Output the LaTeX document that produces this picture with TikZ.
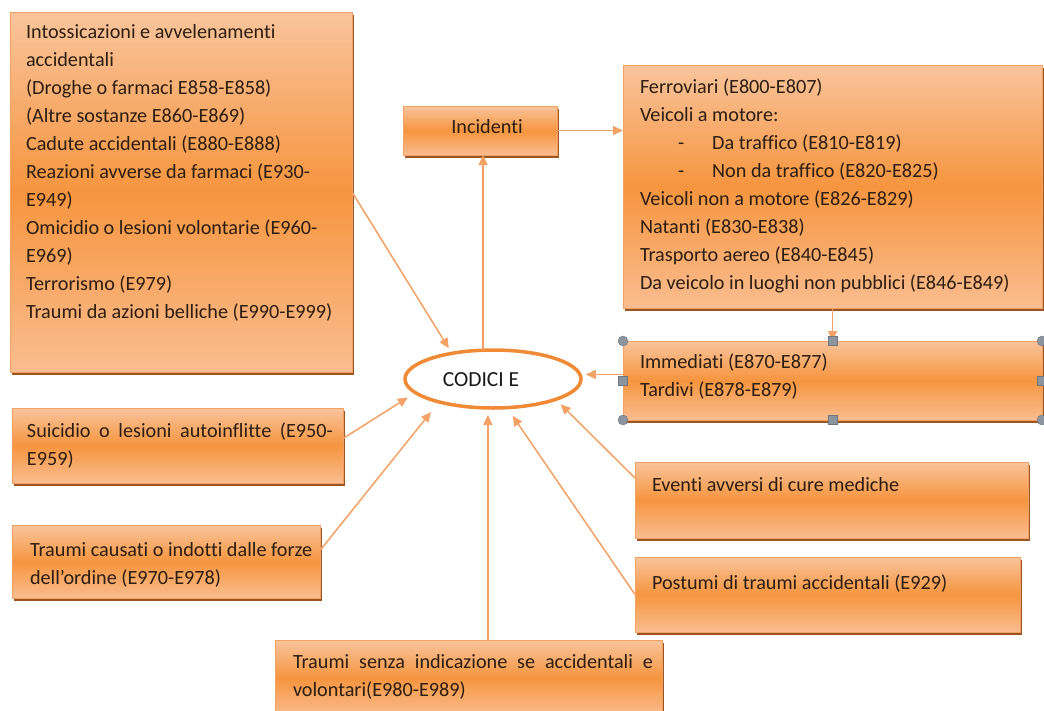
\documentclass[tikz,border=0pt]{standalone}
\usepackage{fontspec}
\setmainfont[Ligatures={NoCommon}]{Carlito}
\usetikzlibrary{shapes.geometric,arrows.meta,fit,calc}
\definecolor{boxT}{HTML}{F9C49C}
\definecolor{boxM}{HTML}{F6953F}
\definecolor{boxB}{HTML}{FABD90}
\definecolor{boxE}{HTML}{F4A062}
\definecolor{shadowc}{HTML}{9A5520}
\definecolor{lineC}{HTML}{F3A165}
\definecolor{ellC}{HTML}{F08A35}
\definecolor{textC}{HTML}{2B1E12}
\definecolor{handleC}{HTML}{8C959D}
\definecolor{handleE}{HTML}{6E767E}
\newcommand\fs{\fontsize{20.2}{28}\selectfont}
\newcommand\mkbox[5]{%
  \fill[shadowc] (#2+1.5,#3+3) rectangle (#4+1.5,#5+3);
  \node[boxsty, fit={(#2,#3) (#4,#5)}] (#1) {};}
\begin{document}
\begin{tikzpicture}[x=1pt,y=-1pt,
  boxsty/.style={draw=boxE, line width=0.6pt, top color=boxT, bottom color=boxB, middle color=boxM, inner sep=0pt, outer sep=0pt},
  txt/.style={inner sep=0pt, outer sep=0pt, anchor=north west, align=left, text=textC, font=\fs},
  jtxt/.style={inner sep=0pt, outer sep=0pt, anchor=north west, align=justify, text=textC, font=\fs},
  arr/.style={draw=lineC, line width=1.5pt, -{Triangle[length=10pt,width=9pt]}},
  hcirc/.style={circle, fill=handleC, draw=handleE, line width=0.4pt, minimum size=10pt, inner sep=0pt},
  hsq/.style={rectangle, fill=handleC, draw=handleE, line width=0.4pt, minimum size=9pt, inner sep=0pt}]
\useasboundingbox (0,0) rectangle (1044,710);
\clip (0,0) rectangle (1044,710);
\fill[white] (0,0) rectangle (1044,710);

% boxes
\mkbox{big}{10}{12}{352}{372}
\mkbox{inc}{403}{106}{557}{155}
\mkbox{fer}{623}{65}{1042}{308}
\mkbox{imm}{623}{341}{1042}{420}
\mkbox{sui}{12}{408}{343}{483}
\mkbox{tc}{12}{525}{320}{598}
\mkbox{ev}{635}{462}{1028}{538}
\mkbox{po}{635}{557}{1020}{632}
\mkbox{tsv}{275}{640}{662}{716}

% central ellipse
\node[ellipse, draw=ellC, line width=3.5pt, fill=white, minimum width=176pt, minimum height=58pt, inner sep=0pt, outer sep=0pt] (codici) at (493,379) {};
\node[inner sep=0pt, anchor=base, font=\fontsize{21.5}{26}\selectfont, text=black!90] (codtxt) at (481,386.5) {CODICI E};

% connectors
\draw[arr, shorten >=6pt] (big.east) -- (codici.148);
\draw[arr] (codici.109) -- (codici.109 |- inc.south);
\draw[arr] (inc.east) -- (inc.east -| fer.west);
\draw[arr] (fer.south) -- (imm.north);
\draw[arr, shorten >=6pt] (imm.west |- codici.3) -- (codici.3);
\draw[arr, shorten >=9pt] ([yshift=7pt]sui.east) -- (codici.190);
\draw[arr, shorten >=13pt] ([yshift=11pt]tc.east) -- (codici.203);
\draw[arr, shorten >=7pt] (codici.260 |- tsv.north) -- (codici.260);
\draw[arr, shorten >=7pt] ([yshift=22pt]ev.west) -- (codici.342);
\draw[arr, shorten >=10pt] (po.west) -- (codici.296);

% texts
\node[txt] (tbig) at (26,18.4) {\strut Intossicazioni e avvelenamenti\\
accidentali\\
(Droghe o farmaci E858-E858)\\
(Altre sostanze E860-E869)\\
Cadute accidentali (E880-E888)\\
Reazioni avverse da farmaci (E930-\\
E949)\\
Omicidio o lesioni volontarie (E960-\\
E969)\\
Terrorismo (E979)\\
Traumi da azioni belliche (E990-E999)};
\node[inner sep=0pt, anchor=base, font=\fs, text=textC] (tinc) at (487,133) {Incidenti};
\node[txt] (tfer) at (640,73.4) {\strut Ferroviari (E800-E807)\\
Veicoli a motore:\\
\hspace*{38pt}-\hspace*{28pt}Da traffico (E810-E819)\\
\hspace*{38pt}-\hspace*{28pt}Non da traffico (E820-E825)\\
Veicoli non a motore (E826-E829)\\
Natanti (E830-E838)\\
Trasporto aereo (E840-E845)\\
Da veicolo in luoghi non pubblici (E846-E849)};
\node[txt] (timm) at (640,348.4) {\strut Immediati (E870-E877)\\ Tardivi (E878-E879)};
\node[jtxt, text width=306pt] (tsui) at (27,417.4) {\strut Suicidio o lesioni autoinflitte (E950-\linebreak E959)};
\node[txt] (ttc) at (30,536.4) {\strut Traumi causati o indotti dalle forze\\ dell’ordine (E970-E978)};
\node[txt] (tev) at (652,471.4) {\strut Eventi avversi di cure mediche};
\node[txt] (tpo) at (652,569.4) {\strut Postumi di traumi accidentali (E929)};
\node[jtxt, text width=360pt] (ttsv) at (293,648.4) {\strut Traumi senza indicazione se accidentali e\linebreak volontari(E980-E989)};

% selection handles
\foreach \a in {north west, north east, south west, south east}
  \node[hcirc] at (imm.\a) {};
\foreach \a in {north, south, west, east}
  \node[hsq] at (imm.\a) {};
\end{tikzpicture}
\end{document}
